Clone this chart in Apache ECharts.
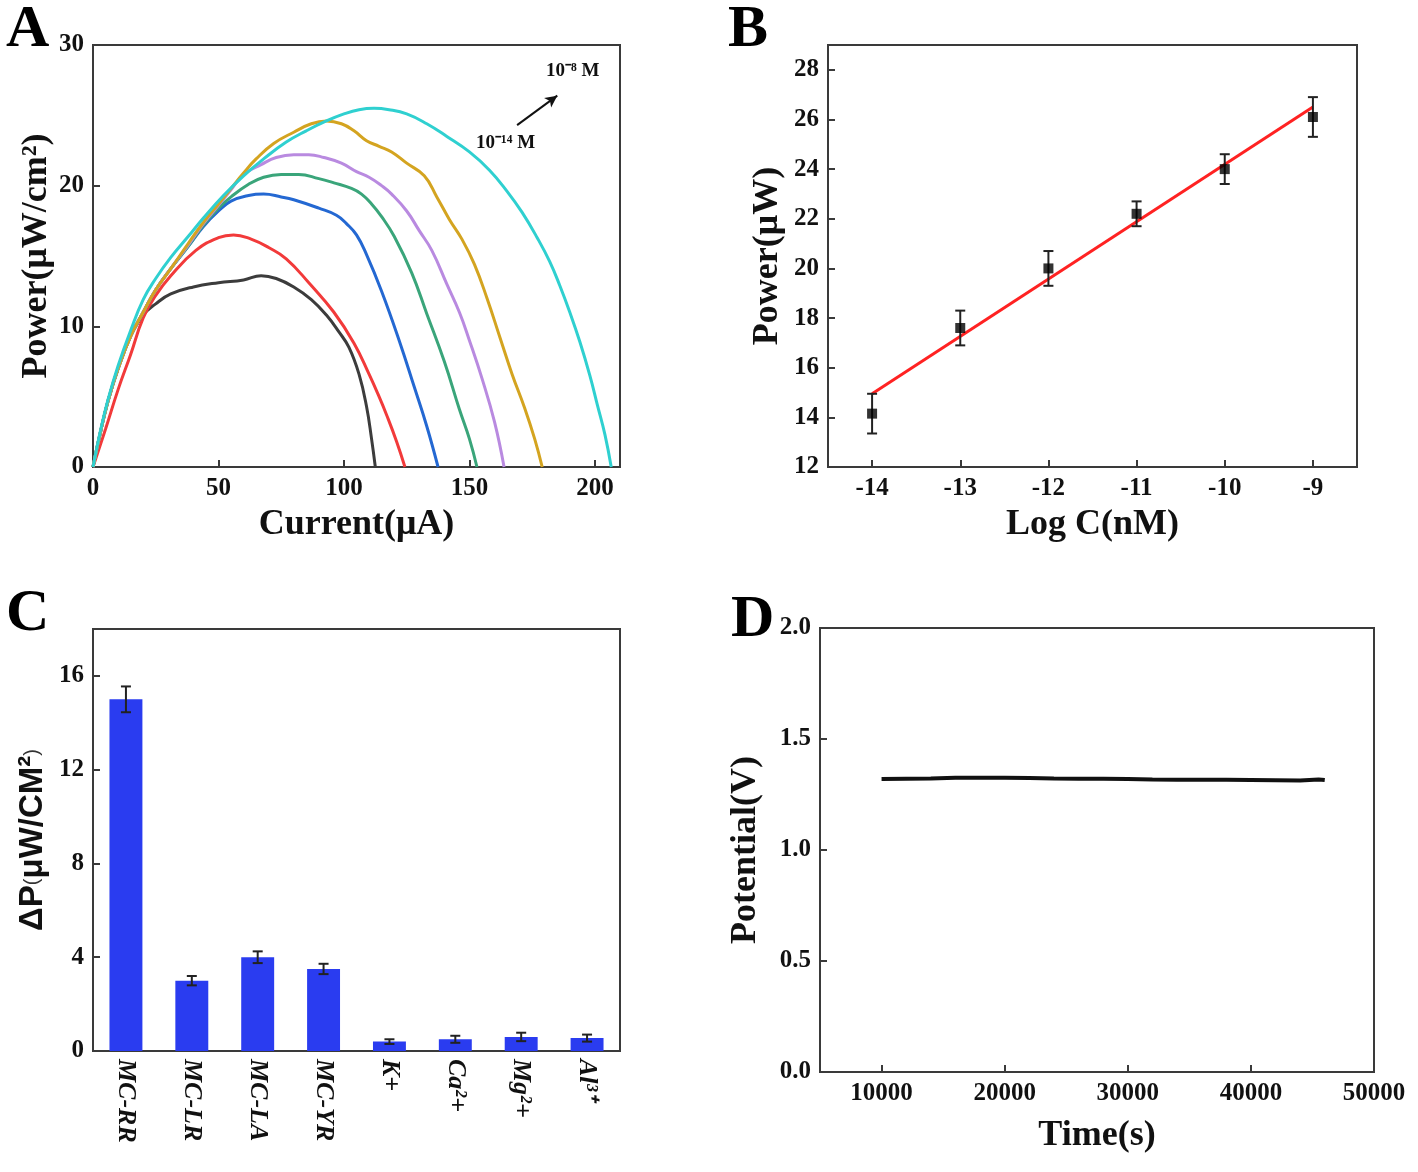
<!DOCTYPE html>
<html>
<head>
<meta charset="utf-8">
<title>MFC sensor</title>
<script src="https://cdn.jsdelivr.net/npm/echarts@6/dist/echarts.min.js"></script>
<style>
  html, body { margin: 0; padding: 0; background: #fff; }
  #Chart { width: 1418px; height: 1172px; }
</style>
</head>
<body>
<div id="Chart"></div>
<script>
// ---- A: power curves (current uA, power uW/cm2) ----
var curveBlack  = [[0,0],[3,2.5],[6,4.7],[10,7],[15,9.3],[20,10.8],[25,11.6],[31,12.3],[40,12.8],[50,13.1],[60,13.3],[67,13.6],[73,13.4],[80,12.8],[87,11.9],[93,10.8],[98,9.6],[102,8.5],[106,6.6],[109,4.3],[111,2.0],[112.5,0]];
var curveRed    = [[0,0],[5,2.7],[10,5.5],[15,8],[20,10.6],[25,12.2],[31,13.6],[41,15.4],[50,16.3],[56,16.5],[63,16.2],[70,15.6],[77,14.8],[86,13.1],[96,11],[104,8.8],[110,6.6],[114,5],[117,3.7],[121,1.8],[124.3,0]];
var curveBlue   = [[0,0],[3,2.5],[6,4.7],[10,7],[15,9.3],[20,11],[25,12.6],[31,14.1],[38,15.7],[44,17.1],[50,18.2],[55,18.9],[62,19.3],[68,19.4],[75,19.2],[80,19.0],[90,18.4],[97,17.9],[101,17.3],[105,16.5],[109,15.1],[115,12.5],[122,9],[128,5.7],[133,2.9],[137.5,0]];
var curveGreen  = [[0,0],[3,2.5],[6,4.7],[10,7],[15,9.3],[20,11],[25,12.6],[31,14.1],[38,15.7],[44,17.2],[50,18.4],[55,19.2],[62,20.1],[68,20.6],[75,20.8],[82,20.8],[90,20.5],[96,20.2],[103,19.8],[107,19.4],[111,18.7],[115,17.8],[120,16.4],[127,13.8],[133,10.9],[140,7.5],[146,4.1],[150,2],[153,0]];
var curvePurple = [[0,0],[3,2.5],[6,4.7],[10,7],[15,9.3],[20,11],[25,12.6],[31,14.1],[38,15.8],[44,17.3],[50,18.6],[55,19.7],[60,20.8],[67,21.5],[73,22],[80,22.2],[86,22.2],[92,22],[99,21.6],[105,21],[110,20.6],[115,20],[119,19.4],[125,18.2],[130,16.8],[135,15.4],[141,13],[146,11],[150,9],[155,6.3],[160,3.2],[163.8,0]];
var curveOrange = [[0,0],[3,2.5],[6,4.7],[10,7],[15,9.3],[20,11],[25,12.6],[31,14.1],[38,15.9],[44,17.4],[50,18.7],[55,19.8],[60,20.9],[65,21.9],[72,23],[80,23.8],[87,24.4],[93,24.6],[99,24.4],[104,23.9],[109,23.2],[114,22.8],[119,22.4],[125,21.6],[132,20.7],[137,19.2],[142,17.6],[147,16.2],[152,14.4],[157,12],[162,9.3],[167,6.6],[172,4.2],[176,2],[179,0]];
var curveCyan   = [[0,0],[3,2.6],[6,4.8],[10,7.2],[15,9.7],[20,11.9],[25,13.4],[31,14.9],[38,16.4],[44,17.7],[52,19.3],[60,20.7],[68,21.9],[77,23.1],[85,23.9],[93,24.6],[100,25.1],[106,25.4],[112,25.5],[118,25.4],[125,25.1],[133,24.4],[141,23.5],[150,22.4],[158,21.1],[165,19.6],[171,18.1],[177,16.3],[182,14.6],[186,12.9],[190,11],[194,8.9],[198,6.5],[201,4.4],[204,2.3],[206.5,0]];
var curveColors = ['#3c3c3c', '#f23a3a', '#2468d2', '#3aa57a', '#b98ae0', '#d4a420', '#2fd0d0'];
var arrowFrom = [169, 24.3];
var arrowTo   = [185, 26.4];
var ticksA_x  = [0, 50, 100, 150, 200];

// ---- B: calibration (log C, power) ----
var logC      = [-14, -13, -12, -11, -10, -9];
var powerB    = [14.15, 17.6, 20.0, 22.2, 24.0, 26.1];
var powerErrB = [0.8, 0.7, 0.7, 0.5, 0.6, 0.8];
var fitLine   = [[-14, 14.95], [-9, 26.5]];
var ticksB_y  = [12, 14, 16, 18, 20, 22, 24, 26, 28];

// ---- C: selectivity ----
var species   = ['MC-RR', 'MC-LR', 'MC-LA', 'MC-YR', 'K+', 'Ca²+', 'Mg²+', 'Al³⁺'];
var deltaP    = [15.0, 3.0, 4.0, 3.5, 0.4, 0.5, 0.6, 0.55];
var deltaErr  = [0.55, 0.2, 0.25, 0.22, 0.1, 0.15, 0.18, 0.15];
var ticksC_y  = [0, 4, 8, 12, 16];

// ---- D: stability ----
var timeD     = [10000,12000,14000,16000,18000,20000,22000,24000,26000,28000,30000,32000,34000,36000,38000,40000,42000,44000,45500,46000];
var potD      = [1.320,1.321,1.322,1.325,1.326,1.325,1.324,1.322,1.321,1.321,1.320,1.318,1.317,1.317,1.316,1.315,1.314,1.313,1.318,1.315];
var ticksD_x  = [10000, 20000, 30000, 40000, 50000];

var serif = 'Liberation Serif';
var axisColor = '#3a3a3a';

function baseAxis(extra) {
    var a = {
        type: 'value',
        splitLine: { show: false },
        axisLine: { show: true, onZero: false, lineStyle: { color: axisColor, width: 2 } },
        axisTick: { show: true, inside: true, length: 7, lineStyle: { color: axisColor, width: 2 } },
        axisLabel: { color: '#111', fontFamily: serif, fontWeight: 'bold', fontSize: 25, margin: 9 },
        nameLocation: 'middle',
        nameTextStyle: { color: '#111', fontFamily: serif, fontWeight: 'bold', fontSize: 36 }
    };
    for (var k in extra) {
        if (typeof extra[k] === 'object' && a[k] && !Array.isArray(extra[k])) {
            a[k] = Object.assign({}, a[k], extra[k]);
        } else {
            a[k] = extra[k];
        }
    }
    return a;
}

// error bars drawn through the axes scales
function errRender(params, api) {
    var x = api.value(0), y = api.value(1), e = api.value(2);
    var top = api.coord([x, y + e]);
    var bot = api.coord([x, y - e]);
    var w = 5;
    var st = { stroke: '#222', lineWidth: 2 };
    return {
        type: 'group',
        children: [
            { type: 'line', shape: { x1: top[0], y1: top[1], x2: bot[0], y2: bot[1] }, style: st },
            { type: 'line', shape: { x1: top[0] - w, y1: top[1], x2: top[0] + w, y2: top[1] }, style: st },
            { type: 'line', shape: { x1: bot[0] - w, y1: bot[1], x2: bot[0] + w, y2: bot[1] }, style: st }
        ]
    };
}

var myChart = echarts.init(document.getElementById('Chart'));

var gridStyle = { show: true, borderColor: axisColor, borderWidth: 2, backgroundColor: 'transparent' };

var curves = [curveBlack, curveRed, curveBlue, curveGreen, curvePurple, curveOrange, curveCyan];
var seriesA = curves.map(function (c, i) {
    var s = {
        type: 'line', xAxisIndex: 0, yAxisIndex: 0, data: c, smooth: 0.45,
        showSymbol: false, symbol: 'none',
        lineStyle: { color: curveColors[i], width: 3 }, z: 2 + i
    };
    if (i === curves.length - 1) {
        s.markLine = {
            silent: true, symbol: ['none', 'arrow'], symbolSize: [9, 12],
            label: { show: false },
            lineStyle: { color: '#111', width: 2, type: 'solid' },
            data: [[{ coord: arrowFrom }, { coord: arrowTo }]]
        };
    }
    return s;
});

var option = {
    animation: false,
    backgroundColor: '#fff',
    grid: [
        Object.assign({ left: 93, top: 45, width: 527, height: 422 }, gridStyle),
        Object.assign({ left: 828, top: 45, width: 529, height: 422 }, gridStyle),
        Object.assign({ left: 93, top: 629, width: 527, height: 422 }, gridStyle),
        Object.assign({ left: 820, top: 628, width: 554, height: 444 }, gridStyle)
    ],
    xAxis: [
        baseAxis({ gridIndex: 0, min: 0, max: 210, name: 'Current(μA)', nameGap: 40,
            axisLabel: { customValues: ticksA_x }, axisTick: { customValues: ticksA_x } }),
        baseAxis({ gridIndex: 1, min: -14.5, max: -8.5, name: 'Log C(nM)', nameGap: 40,
            axisLabel: { customValues: logC }, axisTick: { customValues: logC } }),
        {
            gridIndex: 2, type: 'category', data: species,
            axisLine: { show: true, lineStyle: { color: axisColor, width: 2 } },
            axisTick: { show: false },
            axisLabel: { rotate: -90, margin: 8, color: '#111', fontFamily: serif, fontWeight: 'bold', fontStyle: 'italic', fontSize: 26 }
        },
        baseAxis({ gridIndex: 3, min: 5000, max: 50000, name: 'Time(s)', nameGap: 46,
            axisLabel: { customValues: ticksD_x, formatter: function (v) { return String(v); } },
            axisTick: { customValues: ticksD_x } })
    ],
    yAxis: [
        baseAxis({ gridIndex: 0, min: 0, max: 30, interval: 10, name: 'Power(μW/cm²)', nameGap: 38 }),
        baseAxis({ gridIndex: 1, min: 12, max: 29, name: 'Power(μW)', nameGap: 42,
            axisLabel: { customValues: ticksB_y }, axisTick: { customValues: ticksB_y } }),
        baseAxis({ gridIndex: 2, min: 0, max: 18, nameGap: 44,
            name: '{b|ΔP}{s|(}{b|μW/CM²}{s|)}',
            nameTextStyle: { rich: {
                b: { fontFamily: 'Liberation Sans', fontWeight: 'bold', fontSize: 33, color: '#111' },
                s: { fontFamily: 'Liberation Sans', fontWeight: 'normal', fontSize: 20, color: '#333' }
            } },
            axisLabel: { customValues: ticksC_y }, axisTick: { customValues: ticksC_y } }),
        baseAxis({ gridIndex: 3, min: 0, max: 2, interval: 0.5, name: 'Potential(V)', nameGap: 56,
            axisLabel: { formatter: function (v) { return v.toFixed(1); } } })
    ],
    series: seriesA.concat([
        // B
        {
            type: 'line', xAxisIndex: 1, yAxisIndex: 1, data: fitLine, symbol: 'none',
            lineStyle: { color: '#ff2222', width: 3 }, z: 3
        },
        {
            type: 'custom', xAxisIndex: 1, yAxisIndex: 1, renderItem: errRender, z: 4,
            data: logC.map(function (x, i) { return [x, powerB[i], powerErrB[i]]; })
        },
        {
            type: 'scatter', xAxisIndex: 1, yAxisIndex: 1, symbol: 'rect', symbolSize: 10,
            itemStyle: { color: '#000' }, z: 5,
            data: logC.map(function (x, i) { return [x, powerB[i]]; })
        },
        // C
        {
            type: 'bar', xAxisIndex: 2, yAxisIndex: 2, data: deltaP, barWidth: '50%',
            itemStyle: { color: '#2a3cf0' }, z: 2
        },
        {
            type: 'custom', xAxisIndex: 2, yAxisIndex: 2, renderItem: errRender, z: 4,
            data: deltaP.map(function (v, i) { return [i, v, deltaErr[i]]; })
        },
        // D
        {
            type: 'line', xAxisIndex: 3, yAxisIndex: 3, symbol: 'none',
            data: timeD.map(function (t, i) { return [t, potD[i]]; }),
            lineStyle: { color: '#111', width: 4 }
        }
    ]),
    graphic: [
        { type: 'text', left: 6, top: 0, style: { text: 'A', font: 'bold 60px "Liberation Serif"', fill: '#000' } },
        { type: 'text', left: 728, top: 0, style: { text: 'B', font: 'bold 60px "Liberation Serif"', fill: '#000' } },
        { type: 'text', left: 6, top: 584, style: { text: 'C', font: 'bold 60px "Liberation Serif"', fill: '#000' } },
        { type: 'text', left: 731, top: 590, style: { text: 'D', font: 'bold 60px "Liberation Serif"', fill: '#000' } },
        { type: 'text', left: 546, top: 62, style: { text: '10⁻⁸ M', font: 'bold 19px "Liberation Serif"', fill: '#111' } },
        { type: 'text', left: 476, top: 134, style: { text: '10⁻¹⁴ M', font: 'bold 19px "Liberation Serif"', fill: '#111' } }
    ]
};

myChart.setOption(option);
</script>
</body>
</html>
